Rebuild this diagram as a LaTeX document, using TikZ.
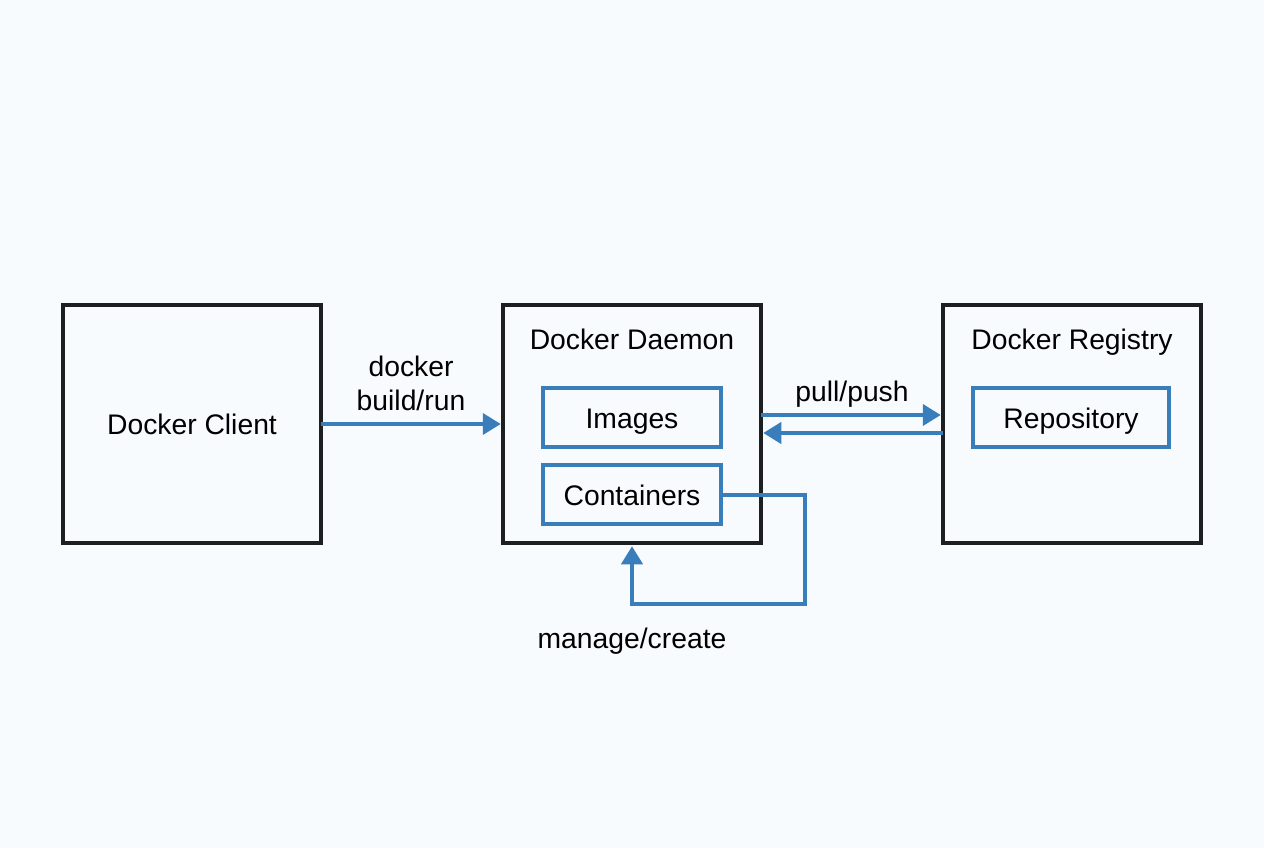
\documentclass[tikz,border=0pt]{standalone}
\usepackage{fontspec}
\setmainfont{Liberation Sans}
\usetikzlibrary{arrows.meta}

\definecolor{paper}{HTML}{F7FBFE}
\definecolor{linkblue}{HTML}{3A7DBB}
\definecolor{boxblack}{HTML}{1C1E20}

\tikzset{
	outerbox/.style={draw=boxblack, line width=0.085cm, minimum width=5.17cm, minimum height=4.77cm, outer sep=0pt},
	innerbox/.style={draw=linkblue, line width=0.08cm, minimum height=1.18cm, outer sep=0pt},
	boxtext/.style={font=\fontsize{16.1}{19}\selectfont, text=black, inner sep=0pt, align=center},
	link/.style={draw=linkblue, line width=0.08cm, -{Triangle[length=0.36cm, width=0.42cm]}},
}

\begin{document}
\begin{tikzpicture}
	\useasboundingbox (0, 0) rectangle (25.28, 16.96);
	\fill[paper] (0, 0) rectangle (25.28, 16.96);

	\node[outerbox] (client) at (3.84, 8.48) {};
	\node[outerbox] (daemon) at (12.64, 8.48) {};
	\node[outerbox] (registry) at (21.44, 8.48) {};

	\node[innerbox, minimum width=3.55cm] (images) at (12.64, 8.61) {};
	\node[innerbox, minimum width=3.55cm] (containers) at (12.64, 7.07) {};
	\node[innerbox, minimum width=3.91cm] (repository) at (21.42, 8.61) {};

	% Подписи блоков
	\node[boxtext] (clienttext) at (3.84, 8.47) {Docker Client};
	\node[boxtext] (daemontext) at (12.64, 10.18) {Docker Daemon};
	\node[boxtext] (registrytext) at (21.44, 10.12) {Docker Registry};
	\node[boxtext] (imagestext) at (12.64, 8.53) {Images};
	\node[boxtext] (containerstext) at (12.64, 7.05) {Containers};
	\node[boxtext] (repositorytext) at (21.42, 8.53) {Repository};

	% Подписи стрелок
	\node[boxtext] (buildtext) at (8.22, 9.29) {docker\\build/run};
	\node[boxtext] (pulltext) at (17.04, 9.08) {pull/push};
	\node[boxtext] (managetext) at (12.64, 4.14) {manage/create};

	\coordinate (loopa) at (16.1, 7.07);
	\coordinate (loopb) at (16.1, 4.88);

	\draw[link] (client.east) -- ([xshift=-0.04cm]daemon.west);
	\draw[link] ([yshift=0.18cm]daemon.east) -- ([yshift=0.18cm, xshift=-0.04cm]registry.west);
	\draw[link] ([yshift=-0.18cm]registry.west) -- ([yshift=-0.18cm, xshift=0.04cm]daemon.east);
	\draw[link] (containers.east) -- (loopa) -- (loopb) -- (loopb -| daemon.south) -- ([yshift=-0.06cm]daemon.south);
\end{tikzpicture}
\end{document}
